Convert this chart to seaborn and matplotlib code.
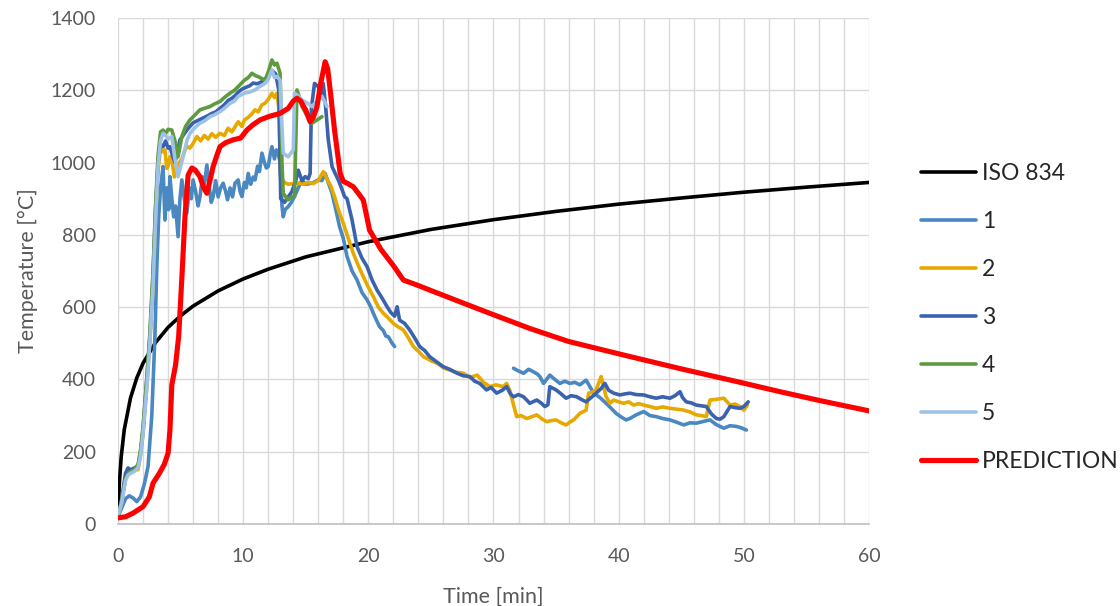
import numpy as np
import pandas as pd
import matplotlib
matplotlib.use("Agg")
import matplotlib.pyplot as plt
import seaborn as sns
from matplotlib.ticker import MultipleLocator

# ---------------- data ----------------
iso_t = [0, 0.1, 0.25, 0.5, 1, 1.5, 2, 3, 4, 5, 6, 8, 10, 12, 15, 20, 25, 30, 35, 40, 45, 50, 55, 60]
iso_v = [20, 108, 184, 261, 349, 404, 445, 502, 544, 576, 603, 645, 678, 705, 739, 781, 815, 842, 865, 885, 902, 918, 932, 945]

s1a_t = [0, 0.3, 0.6, 0.9, 1.2, 1.5, 1.8, 2.1, 2.4, 2.7,
         2.95, 3.1, 3.25, 3.4, 3.6, 3.75, 3.9, 4.05, 4.15, 4.3,
         4.45, 4.6, 4.8, 4.95, 5.1, 5.3, 5.5, 5.7, 5.85, 6.0,
         6.2, 6.4, 6.55, 6.75, 6.9, 7.1, 7.3, 7.45, 7.6, 7.8,
         8.0, 8.2, 8.4, 8.6, 8.75, 8.95, 9.15, 9.35, 9.6, 9.75,
         9.9, 10.1, 10.25, 10.4, 10.6, 10.8, 10.95, 11.15, 11.3, 11.5,
         11.7, 11.85, 12.0, 12.15, 12.3, 12.5, 12.65, 12.8, 12.95, 13.1,
         13.2, 13.35, 13.6, 13.85, 14.1, 14.4, 14.7, 15.0, 15.5, 16.0,
         16.3, 16.55, 16.8, 17.1, 17.4, 17.7, 18.0, 18.3, 18.7, 19.1,
         19.5, 19.9, 20.2, 20.4, 20.7, 20.9, 21.2, 21.4, 21.6, 21.9, 22.1]
s1a_v = [20, 45, 70, 78, 72, 62, 75, 110, 159, 300,
         520, 712, 850, 930, 989, 841, 930, 870, 961, 900,
         850, 880, 795, 900, 952, 900, 860, 930, 900, 952,
         920, 880, 906, 960, 940, 993, 930, 890, 906, 950,
         905, 930, 943, 920, 897, 930, 905, 943, 952, 920,
         906, 945, 930, 970, 940, 960, 952, 990, 975, 1026,
         1000, 985, 989, 1020, 1044, 1010, 1035, 1026, 1000, 880,
         850, 870, 878, 890, 906, 930, 952, 940, 943, 952,
         950, 970, 945, 915, 870, 823, 790, 740, 700, 675,
         640, 620, 600, 583, 560, 546, 535, 520, 518, 500, 491]
s1b_t = [31.6, 31.9, 32.4, 32.8, 33.2, 33.5, 33.7, 34.0, 34.5, 34.9,
         35.3, 35.7, 36.1, 36.5, 36.9, 37.4, 37.7, 38.0, 38.5, 39.0,
         39.4, 39.8, 40.2, 40.6, 40.9, 41.4, 42.0, 42.5, 43.0, 43.5,
         44.1, 44.6, 45.2, 45.7, 46.2, 46.8, 47.3, 47.8, 48.4, 48.9,
         49.4, 49.8, 50.2]
s1b_v = [431, 425, 417, 428, 421, 415, 408, 389, 412, 400,
         389, 395, 389, 392, 385, 398, 380, 362, 350, 334,
         320, 306, 296, 288, 292, 302, 311, 300, 297, 292,
         288, 282, 274, 280, 279, 284, 288, 275, 265, 272,
         270, 266, 260]

s2_t = [0, 0.3, 0.6, 0.8, 1.0, 1.3, 1.6, 1.8, 2.0, 2.3,
        2.55, 2.8, 3.0, 3.2, 3.4, 3.6, 3.75, 3.9, 4.0, 4.15,
        4.3, 4.5, 4.7, 4.9, 5.1, 5.3, 5.5, 5.75, 6.0, 6.3,
        6.6, 6.9, 7.2, 7.5, 7.8, 8.15, 8.5, 8.8, 9.1, 9.35,
        9.6, 9.9, 10.1, 10.4, 10.7, 10.95, 11.2, 11.5, 11.75, 12.0,
        12.3, 12.5, 12.7, 12.85, 13.0, 13.3, 13.6, 14.0, 14.4, 14.8,
        15.2, 15.6, 16.0, 16.4, 16.7, 17.0, 17.3, 17.6, 18.0, 18.4,
        18.8, 19.2, 19.6, 20.0, 20.4, 20.8, 21.2, 21.6, 22.0, 22.4,
        22.8, 23.2, 23.6, 24.0, 24.4, 25.0, 25.5, 26.0, 26.5, 27.0,
        27.6, 28.1, 28.7, 29.2, 29.7, 30.2, 30.8, 31.05, 31.3, 31.5,
        31.85, 32.2, 32.65, 33.0, 33.45, 33.9, 34.25, 34.6, 35.0, 35.4,
        35.8, 36.1, 36.4, 36.9, 37.4, 37.6, 37.9, 38.2, 38.6, 38.8,
        39.0, 39.3, 39.6, 40.0, 40.4, 40.8, 41.2, 41.6, 42.0, 42.5,
        43.0, 43.5, 44.1, 44.6, 45.2, 45.7, 46.2, 46.6, 47.0, 47.3,
        47.8, 48.4, 48.9, 49.3, 49.7, 50.0, 50.3]
s2_v = [20, 60, 130, 150, 148, 152, 150, 190, 251, 380,
        509, 666, 850, 980, 1040, 1030, 1035, 984, 990, 1016,
        1010, 960, 989, 1000, 1010, 1030, 1045, 1040, 1053, 1072,
        1060, 1075, 1065, 1080, 1070, 1081, 1075, 1095, 1085, 1099,
        1113, 1100, 1118, 1125, 1135, 1146, 1140, 1160, 1164, 1175,
        1192, 1180, 1192, 1150, 960, 945, 940, 942, 943, 940,
        945, 942, 950, 975, 955, 935, 906, 870, 832, 790,
        749, 715, 684, 655, 629, 600, 583, 570, 555, 545,
        537, 515, 491, 478, 463, 452, 445, 432, 426, 420,
        417, 405, 412, 392, 380, 385, 380, 389, 370, 343,
        297, 300, 292, 296, 302, 290, 283, 286, 288, 280,
        274, 282, 288, 306, 315, 362, 365, 371, 408, 380,
        352, 334, 343, 338, 334, 338, 329, 333, 329, 325,
        320, 324, 320, 318, 315, 310, 302, 300, 297, 343,
        345, 348, 329, 332, 325, 315, 330]

s3_t = [0, 0.3, 0.6, 0.8, 1.0, 1.3, 1.6, 1.8, 2.0, 2.3,
        2.55, 2.8, 3.0, 3.2, 3.4, 3.6, 3.8, 4.0, 4.15, 4.35,
        4.55, 4.75, 4.95, 5.2, 5.5, 5.75, 6.0, 6.3, 6.6, 6.9,
        7.2, 7.5, 7.8, 8.15, 8.5, 8.8, 9.1, 9.35, 9.6, 9.9,
        10.2, 10.5, 10.8, 11.1, 11.4, 11.7, 12.0, 12.3, 12.6, 12.85,
        13.0, 13.3, 13.6, 13.9, 14.2, 14.4, 14.7, 14.95, 15.2, 15.35,
        15.45, 15.7, 16.0, 16.2, 16.4, 16.6, 16.8, 17.1, 17.35, 17.6,
        17.85, 18.1, 18.3, 18.7, 19.1, 19.5, 19.9, 20.3, 20.7, 21.1,
        21.5, 21.8, 22.1, 22.3, 22.5, 22.9, 23.3, 23.7, 24.1, 24.5,
        24.9, 25.4, 26.0, 26.5, 27.1, 27.6, 28.1, 28.5, 28.9, 29.45,
        29.8, 30.25, 30.7, 31.05, 31.35, 31.6, 32.0, 32.4, 32.9, 33.45,
        33.8, 34.1, 34.35, 34.5, 35.0, 35.4, 35.8, 36.2, 36.65, 37.0,
        37.4, 37.8, 38.2, 38.6, 38.9, 39.2, 39.6, 40.1, 40.5, 40.9,
        41.4, 42.0, 42.5, 43.0, 43.5, 44.1, 44.5, 44.9, 45.1, 45.4,
        45.8, 46.2, 46.6, 47.0, 47.4, 47.8, 48.1, 48.4, 48.9, 49.3,
        49.7, 50.0, 50.35]
s3_v = [20, 70, 140, 155, 150, 155, 160, 200, 260, 400,
        520, 690, 870, 1000, 1050, 1044, 1060, 1040, 1044, 1020,
        1000, 1030, 1063, 1075, 1090, 1100, 1110, 1115, 1120, 1125,
        1130, 1136, 1140, 1150, 1160, 1172, 1178, 1185, 1195, 1203,
        1208, 1212, 1220, 1218, 1222, 1230, 1238, 1255, 1245, 1200,
        900, 890, 905, 920, 950, 979, 950, 961, 955, 970,
        1150, 1219, 1210, 1190, 1219, 1150, 1063, 989, 970, 952,
        930, 906, 900, 841, 767, 735, 712, 675, 647, 625,
        601, 585, 575, 601, 564, 555, 537, 515, 491, 480,
        463, 450, 435, 428, 417, 410, 408, 395, 389, 371,
        378, 362, 370, 380, 360, 352, 358, 352, 334, 343,
        335, 325, 330, 380, 371, 360, 348, 355, 352, 345,
        338, 350, 362, 375, 389, 370, 362, 357, 360, 362,
        358, 357, 352, 348, 352, 348, 355, 366, 350, 338,
        335, 329, 327, 325, 305, 292, 290, 297, 325, 322,
        320, 325, 338]

s4_t = [0, 0.3, 0.6, 0.8, 1.0, 1.3, 1.6, 1.8, 2.0, 2.3,
        2.55, 2.8, 3.0, 3.2, 3.4, 3.6, 3.8, 4.0, 4.3, 4.55,
        4.8, 5.1, 5.4, 5.75, 6.1, 6.55, 6.9, 7.35, 7.7, 8.15,
        8.5, 8.95, 9.3, 9.6, 10.1, 10.4, 10.7, 11.0, 11.2, 11.5,
        11.75, 12.0, 12.3, 12.5, 12.7, 12.95, 13.1, 13.2, 13.4, 13.6,
        13.85, 14.1, 14.2, 14.3, 14.5, 14.7, 15.1, 15.5, 15.9, 16.3]
s4_v = [20, 65, 125, 140, 145, 150, 165, 205, 270, 400,
        530, 700, 880, 1020, 1085, 1090, 1080, 1092, 1090, 1060,
        1016, 1072, 1100, 1118, 1130, 1146, 1150, 1155, 1162, 1169,
        1180, 1192, 1200, 1210, 1228, 1235, 1247, 1240, 1238, 1232,
        1228, 1250, 1284, 1270, 1275, 1247, 1000, 915, 905, 897,
        905, 906, 1050, 1201, 1180, 1155, 1130, 1109, 1118, 1127]

s5_t = [0, 0.3, 0.6, 0.8, 1.0, 1.3, 1.6, 1.8, 2.0, 2.3,
        2.55, 2.8, 3.0, 3.2, 3.4, 3.6, 3.8, 4.0, 4.3, 4.55,
        4.8, 5.0, 5.2, 5.5, 5.75, 6.1, 6.55, 6.9, 7.35, 7.7,
        8.15, 8.5, 8.95, 9.3, 9.6, 10.1, 10.5, 10.95, 11.3, 11.75,
        12.0, 12.3, 12.5, 12.7, 12.95, 13.1, 13.2, 13.6, 14.0, 14.05,
        14.1, 14.4, 14.7, 15.1, 15.5, 15.9, 16.3, 16.7]
s5_v = [20, 60, 120, 135, 140, 145, 155, 190, 250, 375,
        505, 660, 840, 990, 1060, 1081, 1075, 1065, 1072, 1010,
        961, 990, 1016, 1060, 1081, 1095, 1109, 1115, 1127, 1132,
        1141, 1150, 1164, 1170, 1183, 1192, 1195, 1201, 1210, 1219,
        1230, 1256, 1235, 1238, 1228, 1100, 1026, 1016, 1035, 1100,
        1192, 1185, 1173, 1165, 1155, 1170, 1183, 1155]

pred_t = [0, 0.6, 1.2, 2.0, 2.5, 2.8, 3.3, 3.7, 4.0, 4.15,
          4.3, 4.6, 4.85, 5.1, 5.35, 5.6, 5.9, 6.15, 6.55, 6.85,
          7.1, 7.35, 7.6, 7.9, 8.15, 8.6, 9.2, 9.8, 10.3, 10.8,
          11.35, 12.1, 12.95, 13.6, 14.0, 14.3, 14.6, 15.0, 15.35, 15.6,
          15.9, 16.2, 16.55, 16.75, 16.95, 17.3, 17.75, 18.0, 18.3, 18.8,
          19.2, 19.6, 20.1, 21.0, 22.0, 22.8, 23.9, 25.0, 27.6, 30.0,
          32.9, 36.0, 40.1, 44.9, 49.7, 52.9, 56.0, 60.0]
pred_v = [17, 20, 30, 48, 75, 113, 140, 165, 196, 260,
          385, 440, 520, 680, 850, 965, 985, 980, 961, 930,
          915, 950, 989, 1020, 1044, 1055, 1063, 1068, 1090, 1105,
          1118, 1128, 1136, 1150, 1170, 1178, 1170, 1145, 1113, 1125,
          1155, 1220, 1279, 1260, 1201, 1090, 970, 948, 943, 933,
          915, 896, 813, 760, 715, 675, 661, 646, 611, 579,
          541, 505, 470, 430, 392, 366, 342, 313]

labels = ["ISO 834", "1", "2", "3", "4", "5", "PREDICTION"]
colors = ["#000000", "#4A88C2", "#E5A900", "#3A62AE", "#5E9B3E", "#9DC2E6", "#FF0000"]
x_ticks = [0, 10, 20, 30, 40, 50, 60]
y_ticks = [0, 200, 400, 600, 800, 1000, 1200, 1400]

# ---------------- figure ----------------
sns.set_theme(style="white")
plt.rcParams["font.family"] = ["Lato", "DejaVu Sans"]

fig = plt.figure(figsize=(11.2, 6.06), dpi=100)
ax = fig.add_axes([118 / 1120, 1 - 524 / 606, (869 - 118) / 1120, (524 - 18) / 606])

def draw(t, v, label, color, lw):
    df = pd.DataFrame({"t": t, "v": v})
    sns.lineplot(data=df, x="t", y="v", ax=ax, color=color, linewidth=lw,
                 label=label, sort=False, estimator=None, legend=False,
                 solid_joinstyle="round", solid_capstyle="round")

LW = 2.6
draw(iso_t, iso_v, labels[0], colors[0], LW)
draw(s1a_t, s1a_v, labels[1], colors[1], LW)
draw(s1b_t, s1b_v, "_nolegend_", colors[1], LW)
draw(s2_t, s2_v, labels[2], colors[2], LW)
draw(s3_t, s3_v, labels[3], colors[3], LW)
draw(s4_t, s4_v, labels[4], colors[4], LW)
draw(s5_t, s5_v, labels[5], colors[5], LW)
draw(pred_t, pred_v, labels[6], colors[6], 3.7)

ax.set_xlim(0, 60)
ax.set_ylim(0, 1400)
ax.set_xticks(x_ticks)
ax.set_yticks(y_ticks)
ax.xaxis.set_minor_locator(MultipleLocator(2))
ax.grid(True, which="major", axis="y", color="#D9D9D9", linewidth=1.0)
ax.grid(True, which="both", axis="x", color="#D9D9D9", linewidth=1.0)
ax.set_axisbelow(True)
for s in ["top", "right", "left"]:
    ax.spines[s].set_visible(False)
ax.spines["bottom"].set_color("#BFBFBF")
ax.spines["bottom"].set_linewidth(1.2)
ax.tick_params(axis="both", which="both", length=0, labelsize=14, colors="#595959")
ax.tick_params(axis="y", pad=16)
ax.tick_params(axis="x", pad=17)
ax.set_xlabel("Time [min]", fontsize=15.5, color="#595959", labelpad=16)
ax.set_ylabel("Temperature [°C]", fontsize=15.5, color="#595959", labelpad=9)

handles = {}
for ln in ax.get_lines():
    lab = ln.get_label()
    if lab in labels and lab not in handles:
        handles[lab] = ln
fig.legend([handles[l] for l in labels], labels, loc="upper left",
           bbox_to_anchor=(921 / 1120, 1 - 163 / 606), frameon=False,
           fontsize=16.5, handlelength=2.4, handletextpad=0.25,
           labelspacing=1.18, borderpad=0, borderaxespad=0)

fig.savefig("out.png", dpi=100)
